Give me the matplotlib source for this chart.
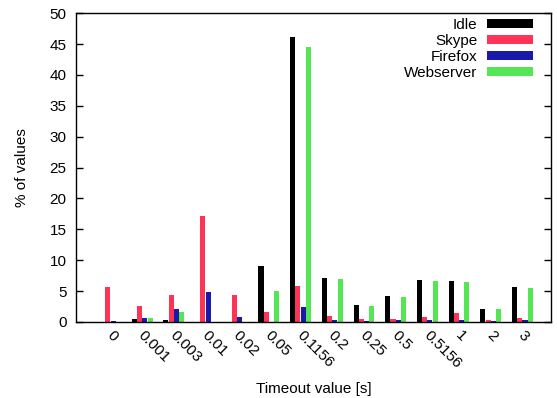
import matplotlib
matplotlib.use("Agg")
import matplotlib.pyplot as plt
import numpy as np

categories = ["0", "0.001", "0.003", "0.01", "0.02", "0.05", "0.1156",
              "0.2", "0.25", "0.5", "0.5156", "1", "2", "3"]
idle = [0.0, 0.45, 0.4, 0.0, 0.0, 9.05, 46.2, 7.1, 2.7, 4.2, 6.8, 6.7, 2.15, 5.65]
skype = [5.65, 2.65, 4.3, 17.1, 4.3, 1.6, 5.9, 0.9, 0.42, 0.55, 0.85, 1.4, 0.33, 0.7]
firefox = [0.15, 0.65, 2.1, 4.85, 0.78, 0.0, 2.4, 0.38, 0.15, 0.27, 0.38, 0.38, 0.15, 0.33]
webserver = [0.0, 0.65, 1.65, 0.05, 0.05, 5.0, 44.5, 6.9, 2.6, 4.05, 6.6, 6.5, 2.08, 5.45]

series = [("Idle", idle, "#000000"),
          ("Skype", skype, "#ff3355"),
          ("Firefox", firefox, "#1a1aaa"),
          ("Webserver", webserver, "#55e655")]

plt.rcParams['font.family'] = ['Liberation Sans', 'DejaVu Sans']
plt.rcParams['font.size'] = 11

fig = plt.figure(figsize=(5.57, 3.98), dpi=100)
ax = fig.add_axes([0.137, 0.191, 0.852, 0.7757])

x = np.arange(len(categories))
slot = 1.0 / 6.0
for k, (name, vals, col) in enumerate(series):
    ax.bar(x + (k - 1.5) * slot, vals, width=slot * 0.95, color=col,
           label=name, linewidth=0)

ax.set_xlim(-1.08, 13.9)
ax.set_ylim(0, 50)
ax.set_yticks(np.arange(0, 51, 5))
ax.tick_params(axis='y', direction='in', length=5, width=1, right=True,
               left=True, pad=7, labelsize=11)
ax.set_xticks(x - 0.05)
ax.set_xticklabels(categories)
ax.tick_params(axis='x', length=0, pad=8, labelsize=11)
plt.setp(ax.get_xticklabels(), rotation=-45, ha='left', va='center',
         rotation_mode='anchor')

for s in ax.spines.values():
    s.set_linewidth(1.0)
    s.set_color('black')

ax.set_xlabel("Timeout value [s]", fontsize=11, labelpad=8)
ax.set_ylabel("% of values", fontsize=11, labelpad=15)

leg = ax.legend(loc='upper right', bbox_to_anchor=(1 - 18 / 474.7, 1 - 5 / 308.7),
                frameon=False, markerfirst=False, borderaxespad=0, borderpad=0,
                handlelength=3.0, handleheight=0.55, handletextpad=0.65,
                labelspacing=0.12, fontsize=11)

fig.savefig("out.png", dpi=100)
